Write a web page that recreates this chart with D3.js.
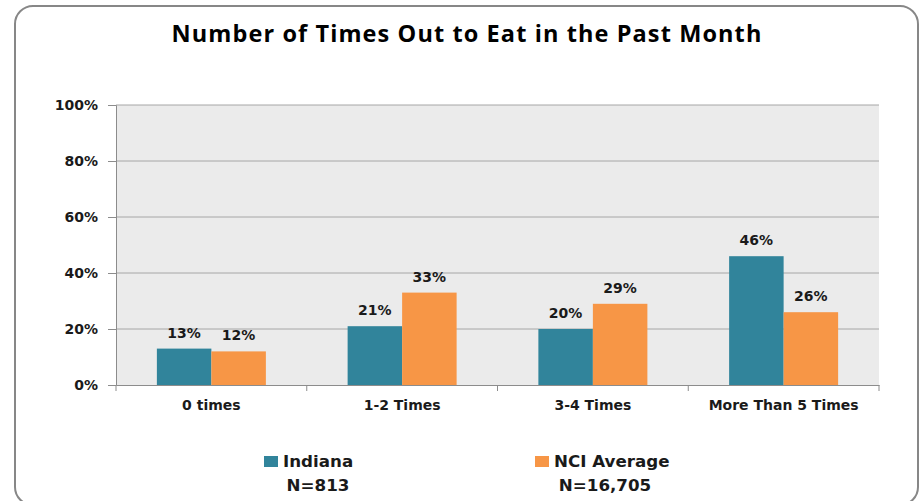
<!DOCTYPE html>
<html><head><meta charset="utf-8">
<script src="https://cdn.jsdelivr.net/npm/d3@7"></script>
<style>
html,body{margin:0;padding:0;background:#fff;}
svg{display:block;}
</style></head>
<body>
<svg id="chart" width="924" height="501"></svg>
<script>
const title = "Number of Times Out to Eat in the Past Month";
const categories = ["0 times", "1-2 Times", "3-4 Times", "More Than 5 Times"];
const seriesNames = ["Indiana", "NCI Average"];
const seriesN = ["N=813", "N=16,705"];
const indiana = [13, 21, 20, 46];
const nciAverage = [12, 33, 29, 26];
const yTicks = [0, 20, 40, 60, 80, 100];
const colors = ["#31849b", "#f79646"];

const svg = d3.select("#chart");
const m = {left: 116, right: 879, top: 105, bottom: 385};
const FONT = "DejaVu Sans";

// outer frame
svg.append("rect").attr("x", 15).attr("y", 6).attr("width", 903).attr("height", 499)
  .attr("rx", 18).attr("fill", "#fff").attr("stroke", "#878787").attr("stroke-width", 2);

svg.append("text").attr("x", 467).attr("y", 42).attr("text-anchor", "middle")
  .attr("font-family", "Open Sans").attr("font-weight", 700).attr("font-size", 23.5)
  .attr("letter-spacing", 1.1)
  .attr("fill", "#000").text(title);

const x = d3.scaleBand().domain(categories).range([m.left, m.right]);
const xs = d3.scaleBand().domain(seriesNames).range([0, x.bandwidth()]).paddingOuter(0.75).paddingInner(0);
const y = d3.scaleLinear().domain([0, 100]).range([m.bottom, m.top]);

svg.append("rect").attr("x", m.left).attr("y", m.top).attr("width", m.right - m.left)
  .attr("height", m.bottom - m.top).attr("fill", "#ebebeb");

// grid
svg.append("g").selectAll("line").data(yTicks.filter(d => d > 0)).join("line")
  .attr("x1", m.left).attr("x2", m.right).attr("y1", d => y(d)).attr("y2", d => y(d))
  .attr("stroke", "#a6a6a6").attr("stroke-width", 1);

// y axis
const yAxis = d3.axisLeft(y).tickValues(yTicks).tickFormat(d => d + "%").tickSize(8).tickPadding(10);
const gy = svg.append("g").attr("transform", `translate(${m.left},0)`).call(yAxis);
gy.select(".domain").attr("stroke", "#8c8c8c");
gy.selectAll(".tick line").attr("stroke", "#8c8c8c");
gy.selectAll("text").attr("font-family", FONT).attr("font-weight", 700)
  .attr("font-size", 14).attr("fill", "#1a1a1a");

// x axis
const gx = svg.append("g").attr("transform", `translate(0,${m.bottom})`)
  .call(d3.axisBottom(x).tickSize(0).tickPadding(15));
gx.select(".domain").attr("stroke", "#8c8c8c");
gx.selectAll("text").attr("font-family", FONT).attr("font-weight", 700)
  .attr("font-size", 14).attr("fill", "#1a1a1a");
// boundary ticks
const bounds = categories.map(c => x(c)).concat([m.right]);
svg.append("g").selectAll("line").data(bounds).join("line")
  .attr("x1", d => d).attr("x2", d => d).attr("y1", m.bottom).attr("y2", m.bottom + 6)
  .attr("stroke", "#8c8c8c");

const data = [indiana, nciAverage];
const groups = svg.append("g").selectAll("g").data(seriesNames).join("g")
  .attr("fill", (d, i) => colors[i]);
groups.each(function(s, si) {
  const g = d3.select(this);
  g.selectAll("rect").data(categories).join("rect")
    .attr("x", c => x(c) + xs(s)).attr("width", xs.bandwidth())
    .attr("y", (c, ci) => y(data[si][ci])).attr("height", (c, ci) => y(0) - y(data[si][ci]));
  g.selectAll("text").data(categories).join("text")
    .attr("x", c => x(c) + xs(s) + xs.bandwidth() / 2)
    .attr("y", (c, ci) => y(data[si][ci]) - 11)
    .attr("text-anchor", "middle").attr("fill", "#1a1a1a")
    .attr("font-family", FONT).attr("font-weight", 700).attr("font-size", 14)
    .text((c, ci) => data[si][ci] + "%");
});

// legend
const legX = [264, 535];
const nOff = [54, 70];
const leg = svg.append("g").selectAll("g").data(seriesNames).join("g")
  .attr("transform", (d, i) => `translate(${legX[i]},0)`);
leg.append("rect").attr("x", 0).attr("y", 456).attr("width", 14).attr("height", 11)
  .attr("fill", (d, i) => colors[i]);
leg.append("text").attr("x", 19).attr("y", 467).text(d => d)
  .attr("font-family", FONT).attr("font-weight", 700).attr("font-size", 16.7).attr("fill", "#1a1a1a");
leg.append("text").attr("x", (d, i) => nOff[i]).attr("y", 491).attr("text-anchor", "middle")
  .text((d, i) => seriesN[i])
  .attr("font-family", FONT).attr("font-weight", 700).attr("font-size", 16.7).attr("fill", "#1a1a1a");
</script>
</body></html>
